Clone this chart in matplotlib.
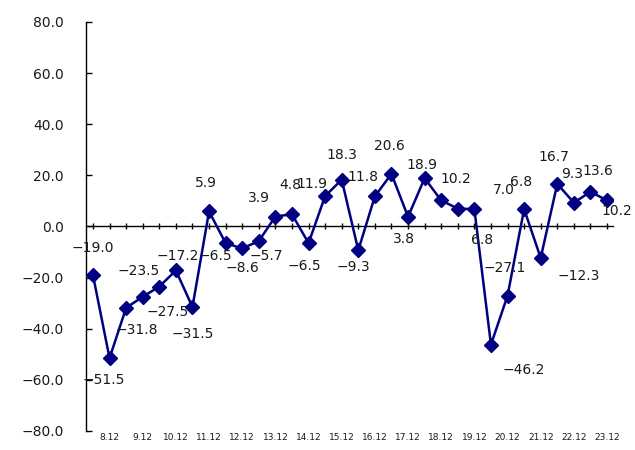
import numpy as np
import matplotlib
matplotlib.use("Agg")
import matplotlib.pyplot as plt

plt.rcParams['font.family'] = ['DejaVu Sans']

# half-yearly values (DI)
values = [-19.0, -51.5, -31.8, -27.5, -23.5, -17.2, -31.5, 5.9,
          -6.5, -8.6, -5.7, 3.9, 4.8, -6.5, 11.9, 18.3,
          -9.3, 11.8, 20.6, 3.8, 18.9, 10.2, 7.0, 6.8,
          -46.2, -27.1, 6.8, -12.3, 16.7, 9.3, 13.6, 10.2]
year_labels = ["8.12", "9.12", "10.12", "11.12", "12.12", "13.12", "14.12", "15.12",
               "16.12", "17.12", "18.12", "19.12", "20.12", "21.12", "22.12", "23.12"]

# label offsets in pixels (dx, dy screen-down)
label_off = [(0, -27), (-6, 22), (11, 22), (25, 15), (-21, -16), (2, -14), (0, 27), (-3, -28),
             (-10, 13), (0, 20), (7, 15), (-16, -19), (-2, -29), (-4, 23), (-13, -12), (0, -25),
             (-5, 17), (-12, -19), (-2, -28), (-4, 22), (-3, -13), (15, -21), (46, -19), (8, 31),
             (33, 25), (-3, -28), (-3, -27), (38, 18), (-3, -27), (-2, -29), (7, -21), (10, 11)]

x = np.arange(len(values))

fig = plt.figure(figsize=(6.35, 4.5), dpi=100)
ax = fig.add_axes([86/635, 1 - 431/450, (613 - 86)/635, (431 - 22)/450])

ax.plot(x, values, color='#000080', lw=1.8, marker='D', markersize=7.5, zorder=3)

for xi, v, (dx, dy) in zip(x, values, label_off):
    ax.annotate(f"{v:.1f}".replace('-', '\u2212'), (xi, v), xytext=(dx, -dy),
                textcoords='offset pixels', ha='center', va='center',
                fontsize=10, color='#1a1a1a')

ax.set_ylim(-80, 80)
ax.set_xlim(-0.42, 31.36)
ax.set_yticks(np.arange(-80, 81, 20))
ax.set_yticklabels([f"{t:.1f}".replace('-', '\u2212') for t in np.arange(-80, 81, 20)])
ax.tick_params(axis='y', direction='in', length=4, width=1, pad=16, labelsize=10,
               labelcolor='#1a1a1a')

ax.spines['top'].set_visible(False)
ax.spines['right'].set_visible(False)
ax.spines['bottom'].set_position(('data', 0))
ax.spines['left'].set_linewidth(1)
ax.spines['bottom'].set_linewidth(1)
ax.set_xticks(x)
ax.set_xticklabels([])
ax.tick_params(axis='x', direction='inout', length=5, width=1)

for i, lab in enumerate(year_labels):
    ax.annotate(lab, (2 * i + 1, 0), xycoords=('data', 'axes fraction'),
                xytext=(0, -7), textcoords='offset pixels', ha='center', va='center',
                fontsize=6.5, color='#1a1a1a')

fig.savefig("out.png", dpi=100)
